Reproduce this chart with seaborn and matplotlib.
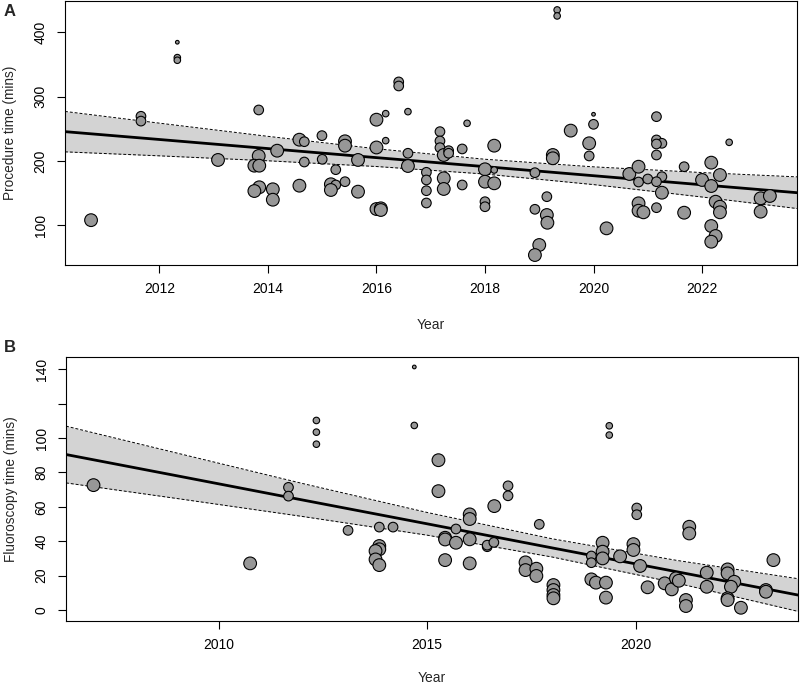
import numpy as np
import pandas as pd
import matplotlib
matplotlib.use("Agg")
import matplotlib.pyplot as plt
import seaborn as sns

# ---------------- data ----------------
# weight: 1 = tiny, 2 = small, 3 = medium, 4 = large study weight
proc_year = [2010.74, 2011.66, 2011.66, 2012.33, 2012.33, 2012.33, 2013.08, 2013.83, 2013.83, 2013.75,
             2013.84, 2013.84, 2013.75, 2014.09, 2014.09, 2014.17, 2014.58, 2014.67, 2014.67, 2014.58,
             2014.995, 2015.0, 2015.25, 2015.16, 2015.25, 2015.16, 2015.42, 2015.42, 2015.42, 2015.66,
             2015.66, 2016.0, 2016.17, 2016.0, 2016.17, 2016.0, 2016.08, 2016.08, 2016.41, 2016.41,
             2016.58, 2016.58, 2016.58, 2016.92, 2016.92, 2016.92, 2016.92, 2017.17, 2017.17, 2017.17,
             2017.24, 2017.33, 2017.33, 2017.24, 2017.24, 2017.58, 2017.58, 2017.67, 2018.0, 2018.0,
             2018.17, 2018.17, 2018.17, 2018.0, 2018.0, 2018.92, 2018.92, 2019.0, 2018.92, 2019.14,
             2019.14, 2019.15, 2019.33, 2019.33, 2019.25, 2019.25, 2019.58, 2019.92, 2020.0, 2020.0,
             2019.92, 2020.24, 2020.66, 2020.83, 2020.83, 2021.0, 2020.83, 2020.83, 2020.92, 2021.16,
             2021.16, 2021.26, 2021.16, 2021.16, 2021.26, 2021.16, 2021.26, 2021.16, 2021.67, 2021.67,
             2022.17, 2022.0, 2022.17, 2022.33, 2022.5, 2022.25, 2022.33, 2022.33, 2022.17, 2022.25,
             2022.17, 2023.08, 2023.25, 2023.08]
proc_time = [108, 269.5, 262, 384.6, 360.7, 356.6, 201.6, 279.3, 207.8, 192.7,
             192.7, 159.1, 153.3, 156, 139.8, 216, 233.1, 230, 198.4, 161.6,
             239.4, 202.6, 186.5, 163.8, 162.7, 154.9, 230.6, 223.8, 167.8, 201.6,
             152.3, 264.2, 273.6, 221, 231.6, 125.3, 126.4, 123.8, 322.9, 316.6,
             276.7, 212, 192.2, 182.4, 170.5, 153.8, 134.7, 245.6, 231.1, 220.7,
             209.3, 216, 212, 173.1, 156.5, 218.7, 162.7, 258.6, 187.1, 167.8,
             223.8, 186, 165.3, 136.7, 128.9, 181.8, 124.9, 69.4, 53.8, 144.5,
             116, 104, 434.8, 425.5, 209.3, 204.2, 247.2, 227.5, 257, 272.6,
             207.8, 95.3, 179.8, 191.1, 167.3, 172, 134.2, 122.7, 120.2, 268.9,
             232.7, 227.5, 226.4, 209.3, 175.6, 167.8, 150.7, 127.4, 191.1, 119.6,
             197.4, 170.5, 161.1, 178.2, 229, 136.7, 128.9, 120.2, 98.9, 83.4,
             74.5, 142, 145.6, 121.2]
proc_weight = [4, 3, 3, 1, 2, 2, 4, 3, 4, 4,
               4, 4, 4, 4, 4, 4, 4, 3, 3, 4,
               3, 3, 3, 4, 3, 4, 4, 4, 3, 4,
               4, 4, 2, 4, 2, 4, 4, 4, 3, 3,
               2, 3, 4, 3, 3, 3, 3, 3, 3, 3,
               4, 3, 3, 4, 4, 3, 3, 2, 4, 4,
               4, 2, 4, 3, 3, 3, 3, 4, 4, 3,
               4, 4, 2, 2, 4, 4, 4, 4, 3, 1,
               3, 4, 4, 4, 3, 3, 4, 4, 4, 3,
               3, 3, 3, 3, 3, 3, 4, 3, 3, 4,
               4, 4, 4, 4, 2, 4, 4, 4, 4, 4,
               4, 4, 4, 4]

fluoro_year = [2006.99, 2010.75, 2011.67, 2011.67, 2012.34, 2012.34, 2012.34, 2014.69, 2014.69, 2013.1,
               2013.85, 2014.18, 2013.85, 2013.85, 2013.76, 2013.76, 2013.85, 2015.27, 2015.27, 2015.43,
               2015.43, 2015.43, 2015.69, 2015.69, 2016.02, 2016.02, 2016.02, 2016.02, 2016.44, 2016.44,
               2016.6, 2016.61, 2016.94, 2016.94, 2017.69, 2017.36, 2017.36, 2017.62, 2017.62, 2018.03,
               2018.03, 2018.03, 2018.03, 2019.37, 2019.37, 2020.03, 2020.03, 2021.29, 2021.29, 2019.21,
               2019.21, 2019.21, 2018.94, 2018.94, 2019.95, 2019.95, 2019.63, 2020.11, 2018.94, 2019.05,
               2019.29, 2019.29, 2020.29, 2020.7, 2020.87, 2020.97, 2021.04, 2021.21, 2021.21, 2021.71,
               2021.71, 2022.21, 2022.21, 2022.37, 2022.29, 2022.21, 2022.21, 2022.53, 2023.13, 2023.13,
               2023.31]
fluoro_time = [72.6, 27.1, 71.3, 66.2, 110.2, 103.4, 96.4, 141.3, 107.3, 46.3,
               48.2, 48.2, 37.2, 35.3, 34.3, 29.4, 26.1, 87.1, 69.1, 42,
               41, 29, 47.1, 39.1, 55.6, 52.9, 41.1, 27.1, 36.8, 37.7,
               39.3, 60.4, 72.2, 66.4, 49.8, 27.7, 23.2, 24, 19.8, 14.5,
               11.6, 8.7, 6.8, 107.1, 101.7, 59.3, 55.4, 48.4, 44.5, 39.1,
               33.9, 30, 31.4, 27.5, 38.3, 34.9, 31.2, 25.6, 17.8, 15.9,
               15.9, 7.2, 13.2, 15.5, 12, 18.4, 17, 5.8, 2.3, 21.7,
               13.5, 23.6, 21.3, 16.4, 13.5, 6.8, 5.8, 1.3, 11.6, 10.6,
               29]
fluoro_weight = [4, 4, 3, 3, 2, 2, 2, 1, 2, 3,
                 3, 3, 4, 4, 4, 4, 4, 4, 4, 4,
                 4, 4, 3, 4, 4, 4, 4, 4, 3, 3,
                 3, 4, 3, 3, 3, 4, 4, 4, 4, 4,
                 4, 4, 4, 2, 2, 3, 3, 4, 4, 4,
                 4, 4, 3, 3, 4, 4, 4, 4, 4, 4,
                 4, 4, 4, 4, 4, 4, 4, 4, 4, 4,
                 4, 4, 4, 4, 4, 4, 4, 4, 4, 4,
                 4]

# meta-regression fits
proc_fit_year = [2010.26, 2012, 2014, 2016, 2018, 2020, 2022, 2023.75]
proc_fit = [245.6, 233.4, 219.3, 205.2, 191.2, 177.1, 163.0, 150.7]
proc_lower = [214.2, 208.0, 200.3, 191.4, 179.7, 163.3, 144.0, 126.1]
proc_upper = [277.0, 258.8, 238.3, 219.0, 202.7, 190.9, 182.0, 175.3]

fluoro_fit_year = [2006.33, 2009, 2012, 2015, 2018, 2021, 2023.9]
fluoro_fit = [90.4, 78.0, 64.0, 50.1, 36.1, 22.2, 8.7]
fluoro_lower = [73.9, 64.8, 54.4, 43.5, 30.8, 15.6, -0.8]
fluoro_upper = [106.9, 91.2, 73.6, 56.7, 41.4, 28.8, 18.2]

proc_xticks = [2012, 2014, 2016, 2018, 2020, 2022]
proc_yticks = [100, 200, 300, 400]
fluoro_xticks = [2010, 2015, 2020]
fluoro_yticks = [0, 20, 40, 60, 80, 100, 120, 140]
fluoro_ytick_labels = ["0", "20", "40", "60", "80", "100", "", "140"]

# ---------------- style ----------------
sns.set_style("white")
plt.rcParams["font.family"] = ["Liberation Sans", "DejaVu Sans"]

W, H = 800, 686
fig = plt.figure(figsize=(W / 100, H / 100), dpi=100)

size_map = {1: 7, 2: 22, 3: 48, 4: 84}


def make_axes(px_left, px_right, px_top, px_bottom):
    return fig.add_axes([px_left / W, 1 - px_bottom / H,
                         (px_right - px_left) / W, (px_bottom - px_top) / H])


def draw_panel(ax, years, vals, weights, fx, ff, flo, fhi):
    ax.fill_between(fx, flo, fhi, color="#d3d3d3", linewidth=0, zorder=1)
    ax.plot(fx, flo, color="black", lw=0.7, ls=(0, (3, 2)), zorder=2)
    ax.plot(fx, fhi, color="black", lw=0.7, ls=(0, (3, 2)), zorder=2)
    fit_df = pd.DataFrame({"x": fx, "y": ff})
    sns.lineplot(data=fit_df, x="x", y="y", color="black", lw=2.0, ax=ax, zorder=3)
    df = pd.DataFrame({"year": years, "val": vals, "w": weights})
    sns.scatterplot(data=df, x="year", y="val", size="w", sizes=size_map,
                    color="#979797", edgecolor="black", linewidth=0.8,
                    legend=False, ax=ax, zorder=4)
    for s in ax.spines.values():
        s.set_visible(True)
        s.set_color("black")
        s.set_linewidth(0.8)
    ax.tick_params(axis="both", direction="out", length=5.5, width=0.8,
                   colors="black", labelsize=10, pad=7, left=True, bottom=True)
    ax.grid(False)


# Panel A
axA = make_axes(65, 797, 1, 265)
draw_panel(axA, proc_year, proc_time, proc_weight,
           proc_fit_year, proc_fit, proc_lower, proc_upper)
axA.set_xlim(2010.26, 2023.75)
axA.set_ylim(38.3, 448.7)
axA.set_xticks(proc_xticks)
axA.set_xticklabels([str(t) for t in proc_xticks])
axA.set_yticks(proc_yticks)
axA.set_yticklabels([str(t) for t in proc_yticks], rotation=90, va="center")
axA.set_xlabel("Year", fontsize=10)
axA.set_ylabel("Procedure time (mins)", fontsize=9.8)
axA.xaxis.set_label_coords(0.5, -0.2)
axA.yaxis.set_label_coords(-0.065, 0.5)

# Panel B
axB = make_axes(66, 798, 357, 621)
draw_panel(axB, fluoro_year, fluoro_time, fluoro_weight,
           fluoro_fit_year, fluoro_fit, fluoro_lower, fluoro_upper)
axB.set_xlim(2006.33, 2023.9)
axB.set_ylim(-6.4, 147.1)
axB.set_xticks(fluoro_xticks)
axB.set_xticklabels([str(t) for t in fluoro_xticks])
axB.set_yticks(fluoro_yticks)
axB.set_yticklabels(fluoro_ytick_labels, rotation=90, va="center")
axB.set_xlabel("Year", fontsize=10)
axB.set_ylabel("Fluoroscopy time (mins)", fontsize=9.8)
axB.xaxis.set_label_coords(0.5, -0.188)
axB.yaxis.set_label_coords(-0.065, 0.5)

fig.text(4 / W, 1 - 11 / H, "A", fontsize=12, fontweight="bold", va="center", ha="left")
fig.text(4 / W, 1 - 348 / H, "B", fontsize=12, fontweight="bold", va="center", ha="left")

fig.savefig("out.png", dpi=100)
